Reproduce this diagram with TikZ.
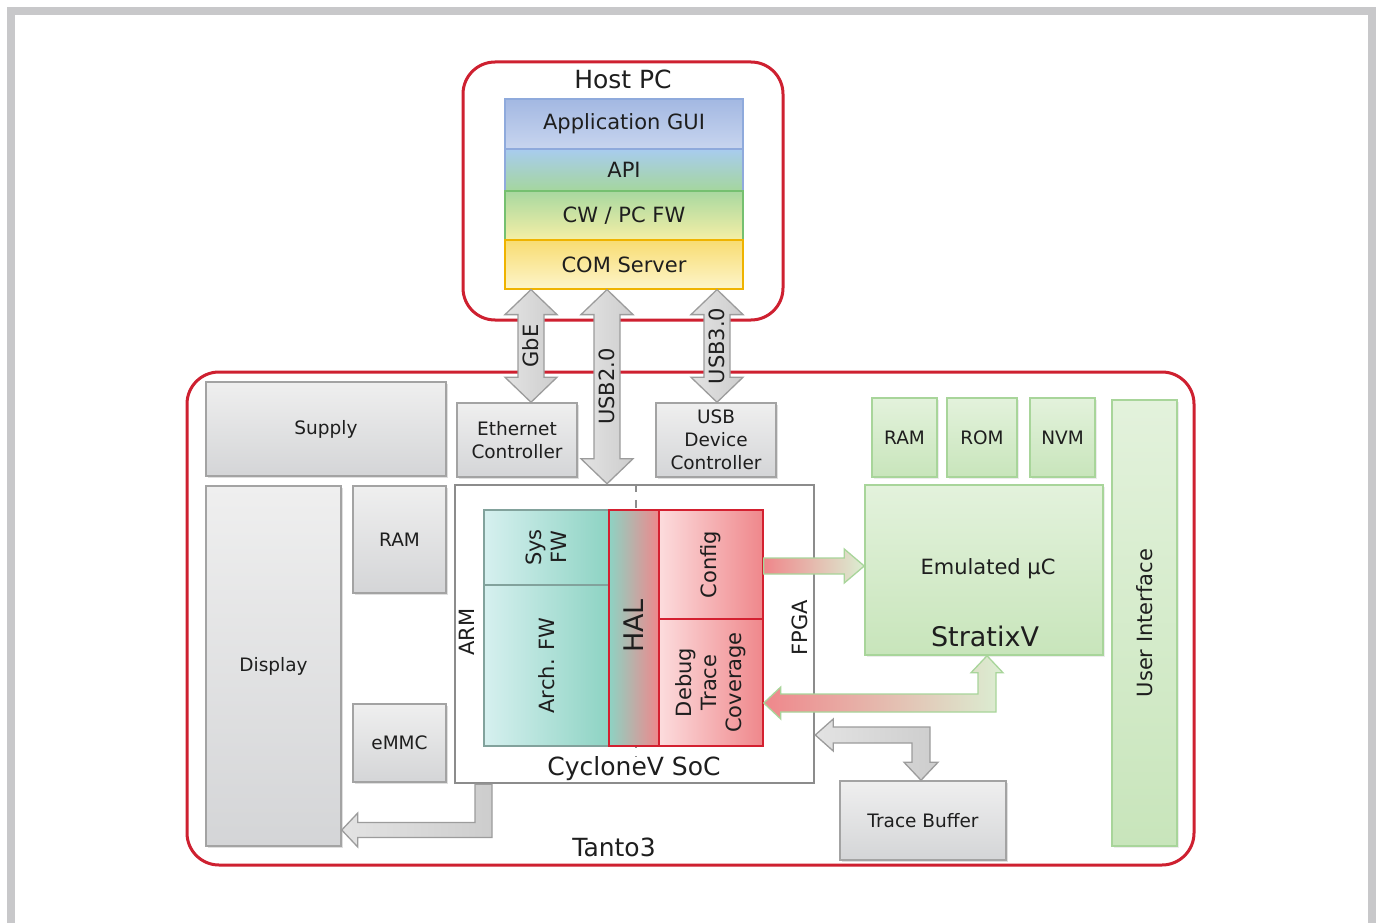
\documentclass[tikz,border=0pt]{standalone}
\usepackage{fontspec}
\setmainfont{DejaVu Sans}
\usetikzlibrary{calc,fit,shadows}

\definecolor{redline}{HTML}{CE2030}
\definecolor{framegray}{HTML}{C8C8CA}
\definecolor{txt}{HTML}{1E1E1E}
\definecolor{grayTop}{HTML}{EFEFEF}
\definecolor{grayBot}{HTML}{D4D5D7}
\definecolor{grayBorder}{HTML}{A3A3A3}
\definecolor{greenTop}{HTML}{E3F2DC}
\definecolor{greenBot}{HTML}{C8E5BB}
\definecolor{greenBorder}{HTML}{A8D59A}
\definecolor{tealL}{HTML}{D6F0EF}
\definecolor{tealR}{HTML}{8DD3C3}
\definecolor{tealBorder}{HTML}{82A29C}
\definecolor{pinkL}{HTML}{FCDCDD}
\definecolor{pinkR}{HTML}{EF878B}
\definecolor{pinkBorder}{HTML}{D42030}
\definecolor{guiTop}{HTML}{A3B8E2}
\definecolor{guiBot}{HTML}{C8D5EF}
\definecolor{guiBorder}{HTML}{8FAADC}
\definecolor{apiTop}{HTML}{A8CCEF}
\definecolor{apiBot}{HTML}{A5D69D}
\definecolor{cwTop}{HTML}{A8D8A0}
\definecolor{cwBot}{HTML}{F5EFA6}
\definecolor{cwBorder}{HTML}{75C070}
\definecolor{comTop}{HTML}{F8DC72}
\definecolor{comBot}{HTML}{FDF5CA}
\definecolor{comBorder}{HTML}{EFB300}
\definecolor{arrL}{HTML}{E3E3E3}
\definecolor{arrR}{HTML}{CDCDCD}
\definecolor{arrBorder}{HTML}{9C9C9C}
\definecolor{socBorder}{HTML}{8C8C8C}

\newcommand\fntS{\fontsize{18.5}{23}\selectfont}
\newcommand\fntM{\fontsize{21}{25}\selectfont}
\newcommand\fntL{\fontsize{25}{29}\selectfont}
\newcommand\fntXL{\fontsize{27}{31}\selectfont}

\newcommand\fatVV[3]{%
  \draw[#1] (#2) -- ($(#2)+(26,25)$) -- ($(#2)+(13,25)$) -- ($(#3)+(13,-25)$)
    -- ($(#3)+(26,-25)$) -- (#3) -- ($(#3)+(-26,-25)$) -- ($(#3)+(-13,-25)$)
    -- ($(#2)+(-13,25)$) -- ($(#2)+(-26,25)$) -- cycle;}

\tikzset{
  redframe/.style={draw=redline, line width=3pt, rounded corners=32pt, inner sep=0pt},
  box/.style={inner sep=0pt, line width=1.5pt},
  graybox/.style={box, draw=grayBorder, top color=grayTop, bottom color=grayBot,
    drop shadow={shadow xshift=1.5pt, shadow yshift=-1.5pt, opacity=.25, fill=black!50}},
  greenbox/.style={box, draw=greenBorder, top color=greenTop, bottom color=greenBot,
    drop shadow={shadow xshift=1.5pt, shadow yshift=-1.5pt, opacity=.15, fill=black!50}},
  layer/.style={box, line width=1.2pt},
  tealbox/.style={box, draw=tealBorder, line width=1.2pt, left color=tealL, right color=tealR},
  pinkbox/.style={box, draw=pinkBorder, line width=1.5pt, left color=pinkL, right color=pinkR},
  halbox/.style={box, draw=pinkBorder, line width=1.5pt, left color=tealR, middle color=pinkL!70!tealR, right color=pinkR},
  socbox/.style={box, draw=socBorder, line width=2.5pt, fill=white},
  fatgray/.style={draw=arrBorder, line width=1.3pt, left color=arrL, right color=arrR, line join=miter},
  fatmix/.style={draw=greenBorder, line width=1.3pt, left color=pinkR, right color=greenTop!70!greenBot, line join=miter},
  lbl/.style={text=txt, align=center, inner sep=0pt},
  sl/.style={lbl, font=\fntS},
  ml/.style={lbl, font=\fntM},
}

\begin{document}
\begin{tikzpicture}[x=1pt,y=-1pt]
\useasboundingbox (0,0) rectangle (1382,923);
\fill[white] (0,0) rectangle (1382,923);
% outer frame
\fill[framegray] (7,7) rectangle (15,923);
\fill[framegray] (7,7) rectangle (1376,15);
\fill[framegray] (1368,7) rectangle (1376,923);

% Host PC
\node[redframe, fit={(463,62) (783,320)}] (host) {};
\node[lbl, font=\fntL] (hostlbl) at (623,79) {Host PC};
\node[layer, fit={(505,99) (743,149)}, draw=guiBorder, top color=guiTop, bottom color=guiBot] (gui) {};
\node[layer, fit={(505,149) (743,191)}, draw=guiBorder, top color=apiTop, bottom color=apiBot] (api) {};
\node[layer, fit={(505,191) (743,240)}, draw=cwBorder, top color=cwTop, bottom color=cwBot] (cw) {};
\node[layer, fit={(505,240) (743,289)}, draw=comBorder, top color=comTop, bottom color=comBot] (com) {};
\node[ml] (guilbl) at (gui.center) {Application GUI};
\node[ml] (apilbl) at (api.center) {API};
\node[ml] (cwlbl) at (cw.center) {CW / PC FW};
\node[ml] (comlbl) at (com.center) {COM Server};

% Tanto3
\node[redframe, fit={(187,372) (1194,865)}] (tanto) {};
\node[lbl, font=\fntL] (tantolbl) at (614,847) {Tanto3};

\node[graybox, fit={(206,382) (446,476)}] (supply) {};
\node[graybox, fit={(457,403) (577,477)}] (eth) {};
\node[graybox, fit={(656,403) (776,477)}] (usbc) {};
\node[graybox, fit={(206,486) (341,846)}] (display) {};
\node[graybox, fit={(353,486) (446,593)}] (ramA) {};
\node[graybox, fit={(353,704) (446,782)}] (emmc) {};
\node[graybox, fit={(840,781) (1006,860)}] (trace) {};
\node[sl] (supplylbl) at (supply.center) {Supply};
\node[sl] (ethlbl) at (eth.center) {Ethernet\\Controller};
\node[sl] (usbclbl) at (usbc.center) {USB\\Device\\Controller};
\node[sl] (displaylbl) at (display.center) {Display};
\node[sl] (ramAlbl) at (ramA.center) {RAM};
\node[sl] (emmclbl) at (emmc.center) {eMMC};
\node[sl] (tracelbl) at (trace.center) {Trace Buffer};

% SoC
\node[socbox, fit={(455,485) (814,783)}] (soc) {};
\draw[socBorder, line width=2pt, dash pattern=on 8pt off 8pt] (636,0 |- soc.north) -- (636,0 |- soc.south);
\node[lbl, font=\fntL, fill=white] (soclbl) at (634,769) {CycloneV SoC};
\node[ml, rotate=90] (armlbl) at (467,632) {ARM};
\node[ml, rotate=90] (fpgalbl) at (800,628) {FPGA};

\node[tealbox, fit={(484,510) (609,585)}] (sysfw) {};
\node[ml, rotate=90] (sysfwlbl) at (sysfw.center) {Sys\\FW};
\node[tealbox, fit={(484,585) (609,746)}] (archfw) {};
\node[ml, rotate=90] (archfwlbl) at (archfw.center) {Arch. FW};
\node[halbox, fit={(609,510) (659,746)}] (hal) {};
\node[lbl, font=\fntXL, rotate=90] (hallbl) at (634,626) {HAL};
\node[pinkbox, fit={(659,510) (763,619)}] (config) {};
\node[ml, rotate=90] (configlbl) at (config.center) {Config};
\node[pinkbox, fit={(659,619) (763,746)}] (debug) {};
\node[ml, rotate=90] (debuglbl) at (debug.center) {Debug\\Trace\\Coverage};

% green part
\node[greenbox, fit={(872,398) (937,477)}] (ramB) {};
\node[greenbox, fit={(947,398) (1017,477)}] (rom) {};
\node[greenbox, fit={(1030,398) (1095,477)}] (nvm) {};
\node[sl] (ramBlbl) at (ramB.center) {RAM};
\node[sl] (romlbl) at (rom.center) {ROM};
\node[sl] (nvmlbl) at (nvm.center) {NVM};
\node[greenbox, fit={(865,485) (1103,655)}] (emu) {};
\node[ml] (emulbl) at (988,569) {Emulated µC};
\node[lbl, font=\fntXL] (stratixlbl) at (985,636) {StratixV};
\node[greenbox, fit={(1112,400) (1177,846)}] (ui) {};
\node[ml, rotate=90] (uilbl) at (ui.center) {User Interface};

% vertical link arrows
\coordinate (gbeT) at (531,0 |- com.south);
\coordinate (gbeB) at (531,0 |- eth.north);
\coordinate (uaT) at (607,0 |- com.south);
\coordinate (uaB) at (607,0 |- soc.north);
\coordinate (ubT) at (717,0 |- com.south);
\coordinate (ubB) at (717,0 |- usbc.north);
\fatVV{fatgray}{gbeT}{gbeB}
\fatVV{fatgray}{uaT}{uaB}
\fatVV{fatgray}{ubT}{ubB}
\node[ml, rotate=90] (gbelbl) at ($(gbeT)!0.5!(gbeB)$) {GbE};
\node[ml, rotate=90] (ualbl) at ($(uaT)!0.5!(uaB)$) {USB2.0};
\node[ml, rotate=90] (ublbl) at ($(ubT)!0.5!(ubB)$) {USB3.0};

% Config -> Emulated
\coordinate (cfgS) at (config.east |- 0,566);
\coordinate (cfgE) at (emu.west |- 0,566);
\draw[fatmix] ($(cfgS)+(0,-8)$) -- ($(cfgE)+(-20,-8)$) -- ($(cfgE)+(-20,-17)$) -- (cfgE)
  -- ($(cfgE)+(-20,17)$) -- ($(cfgE)+(-20,8)$) -- ($(cfgS)+(0,8)$) -- cycle;

% Debug <-> StratixV
\coordinate (dbgL) at (debug.east |- 0,703);
\coordinate (emuB) at (987,0 |- emu.south);
\coordinate (elbowC) at (emuB |- dbgL);
\draw[fatmix] (dbgL) -- ($(dbgL)+(17,-16)$) -- ($(dbgL)+(17,-9)$) -- ($(elbowC)+(-9,-9)$)
  -- ($(emuB)+(-9,17)$) -- ($(emuB)+(-16,17)$) -- (emuB) -- ($(emuB)+(16,17)$)
  -- ($(emuB)+(9,17)$) -- ($(elbowC)+(9,9)$) -- ($(dbgL)+(17,9)$) -- ($(dbgL)+(17,16)$) -- cycle;

% SoC <-> Trace Buffer
\coordinate (tbL) at (soc.east |- 0,735);
\coordinate (tbB) at (921,0 |- trace.north);
\coordinate (tbC) at (tbB |- tbL);
\draw[fatgray] (tbL) -- ($(tbL)+(18,-16)$) -- ($(tbL)+(18,-8)$) -- ($(tbC)+(9,-8)$)
  -- ($(tbB)+(9,-18)$) -- ($(tbB)+(17,-18)$) -- (tbB) -- ($(tbB)+(-17,-18)$)
  -- ($(tbB)+(-9,-18)$) -- ($(tbC)+(-9,8)$) -- ($(tbL)+(18,8)$) -- ($(tbL)+(18,16)$) -- cycle;

% SoC -> Display
\coordinate (emS) at (483.5,0 |- soc.south);
\coordinate (emE) at (display.east |- 0,830);
\coordinate (emC) at (emS |- emE);
\draw[fatgray] ($(emS)+(-8.5,0)$) -- ($(emS)+(8.5,0)$) -- ($(emC)+(8.5,7.5)$)
  -- ($(emE)+(16,7.5)$) -- ($(emE)+(16,17)$) -- (emE) -- ($(emE)+(16,-17)$)
  -- ($(emE)+(16,-7.5)$) -- ($(emC)+(-8.5,-7.5)$) -- cycle;
\end{tikzpicture}
\end{document}
